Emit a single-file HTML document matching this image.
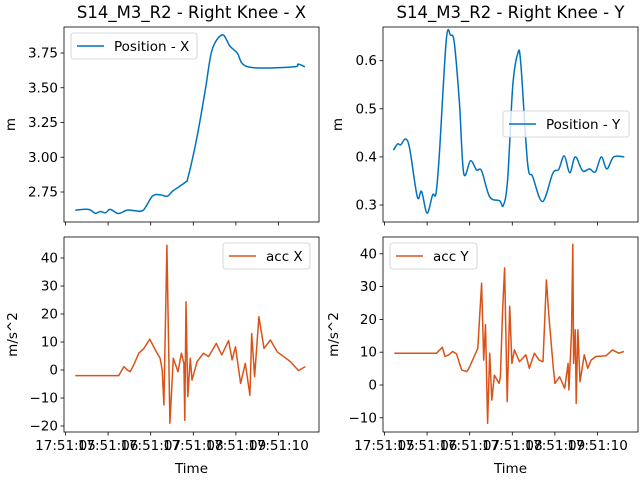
<!DOCTYPE html>
<html><head><meta charset="utf-8"><style>
html,body{margin:0;padding:0;background:#fff}
svg{display:block;font-family:"DejaVu Sans","Liberation Sans",sans-serif}
</style></head><body>
<svg id="fig" width="640" height="480" viewBox="0 0 640 480" xmlns="http://www.w3.org/2000/svg"></svg>
<script>
const timeTicks=[5,6,7,8,9,10];
const timeTickLabels=["17:51:05","17:51:06","17:51:07","17:51:08","17:51:09","17:51:10"];

const posXTime=[5.23,5.54,5.70,5.82,5.94,6.05,6.24,6.45,6.64,6.83,7.04,7.22,7.39,7.53,7.81,7.88,8.09,8.28,8.44,8.68,8.86,9.03,9.29,10.34,10.46,10.62];
const posXVals=[2.62,2.625,2.597,2.61,2.60,2.625,2.595,2.62,2.615,2.62,2.72,2.73,2.72,2.76,2.82,2.86,3.15,3.48,3.77,3.88,3.80,3.75,3.65,3.65,3.67,3.65];
const posXTicks=[2.75,3.00,3.25,3.50,3.75];
const posXTickLabels=["2.75","3.00","3.25","3.50","3.75"];

const posYTime=[5.21,5.31,5.38,5.49,5.59,5.77,5.87,6.0,6.13,6.21,6.29,6.45,6.55,6.64,6.76,6.86,7.02,7.16,7.28,7.47,7.70,7.79,7.89,8.01,8.13,8.20,8.36,8.48,8.71,8.95,9.09,9.22,9.35,9.48,9.65,9.81,9.95,10.09,10.22,10.38,10.63];
const posYVals=[0.414,0.427,0.425,0.437,0.418,0.317,0.328,0.283,0.321,0.324,0.407,0.643,0.653,0.636,0.511,0.366,0.392,0.373,0.371,0.317,0.309,0.299,0.352,0.546,0.615,0.594,0.387,0.359,0.307,0.366,0.374,0.402,0.367,0.400,0.371,0.375,0.369,0.400,0.375,0.400,0.400];
const posYTicks=[0.3,0.4,0.5,0.6];
const posYTickLabels=["0.3","0.4","0.5","0.6"];

const accXTime=[5.23,6.25,6.37,6.45,6.52,6.60,6.72,6.84,6.98,7.11,7.22,7.27,7.31,7.38,7.45,7.53,7.64,7.72,7.78,7.80,7.83,7.87,7.93,7.97,8.09,8.24,8.36,8.54,8.67,8.83,8.91,8.99,9.11,9.22,9.33,9.37,9.44,9.54,9.66,9.81,9.97,10.28,10.47,10.63];
const accXVals=[-2.0,-2.0,1.2,0,-0.6,1.8,6,7.7,11,7.1,4.2,0,-12.5,44.6,-19,4.2,-0.6,6,2.4,-18,24.4,-9.5,4.2,-3.6,3,6,4.8,9.5,5.4,10.5,3.6,8.3,-4.8,2.4,-9,13,-2.4,19,7.7,10.7,6.5,3,-0.2,1.2];
const accXTicks=[-20,-10,0,10,20,30,40];
const accXTickLabels=["\u221220","\u221210","0","10","20","30","40"];

const accYTime=[5.23,6.22,6.36,6.42,6.51,6.60,6.69,6.81,6.93,6.97,7.09,7.19,7.28,7.33,7.37,7.42,7.47,7.52,7.58,7.69,7.72,7.77,7.82,7.88,7.94,7.99,8.05,8.17,8.32,8.40,8.52,8.63,8.72,8.80,8.86,8.96,9.0,9.11,9.23,9.31,9.33,9.39,9.42,9.44,9.48,9.50,9.54,9.59,9.69,9.77,9.85,9.96,10.2,10.35,10.50,10.62];
const accYVals=[9.7,9.7,11.5,8.7,9.2,10.2,9.5,4.6,4.1,4.8,8.2,11.2,31,7.6,18.4,-11.7,9.7,-4.6,3,0.5,2.5,22,35.7,-5.1,24,6.6,10.7,7.1,9.2,5.1,9.7,7.6,7.1,32,21,5.6,0.5,2.5,-1,6.6,-1.5,15.8,42.9,6.6,16.8,-5.6,16.8,1,9.2,5.1,7.6,8.7,8.9,10.7,9.7,10.2];
const accYTicks=[-10,0,10,20,30,40];
const accYTickLabels=["\u221210","0","10","20","30","40"];

const NS="http://www.w3.org/2000/svg";
const svg=document.getElementById('fig');
function el(tag,attrs,parent){const e=document.createElementNS(NS,tag);for(const k in attrs)e.setAttribute(k,attrs[k]);(parent||svg).appendChild(e);return e;}

function pathFrom(pts,smooth){
  if(!smooth){return pts.map((p,i)=>(i?'L':'M')+p[0].toFixed(1)+' '+p[1].toFixed(1)).join('');}
  let d='M'+pts[0][0].toFixed(1)+' '+pts[0][1].toFixed(1);
  for(let i=0;i<pts.length-1;i++){
    const p0=pts[i-1]||pts[i],p1=pts[i],p2=pts[i+1],p3=pts[i+2]||p2;
    const c1=[p1[0]+(p2[0]-p0[0])/6,p1[1]+(p2[1]-p0[1])/6];
    const c2=[p2[0]-(p3[0]-p1[0])/6,p2[1]-(p3[1]-p1[1])/6];
    d+='C'+c1[0].toFixed(1)+' '+c1[1].toFixed(1)+' '+c2[0].toFixed(1)+' '+c2[1].toFixed(1)+' '+p2[0].toFixed(1)+' '+p2[1].toFixed(1);
  }
  return d;
}

function panel(cfg){
  const g=el('g',{});
  
  
  const x0=cfg.x0,y0=cfg.y0,w=255,h=195;
  const xs=t=>x0+(t-4.965)*42.6;
  const ys=v=>cfg.yPix0-(v-cfg.yVal0)*cfg.yScale;
  const pts=cfg.t.map((t,i)=>[xs(t),ys(cfg.v[i])]);
  const p=el('path',{d:pathFrom(pts,cfg.smooth),fill:'none',stroke:cfg.color,'stroke-width':1.5,'stroke-linejoin':'round'},g);
  
  
  el('rect',{x:x0,y:y0,width:w,height:h,fill:'none',stroke:'#000','stroke-width':0.8},g);
  cfg.yTicks.forEach((v,i)=>{
    const y=ys(v);
    el('line',{x1:x0-3.5,x2:x0,y1:y,y2:y,stroke:'#000','stroke-width':0.8},g);
    const tx=el('text',{x:x0-6,y:y+4.5,'text-anchor':'end','font-size':13.5,fill:'#000'},g);
    tx.textContent=cfg.yLabels[i];
    
    
  });
  timeTicks.forEach((t,i)=>{
    const x=xs(t);
    el('line',{x1:x,x2:x,y1:y0+h,y2:y0+h+3.5,stroke:'#000','stroke-width':0.8},g);
    if(cfg.showX){
      const tx=el('text',{x:x,y:y0+h+18,'text-anchor':'middle','font-size':13.5,fill:'#000'},g);
      tx.textContent=timeTickLabels[i];
      
      
    }
  });
  if(cfg.showX){
    const xt=el('text',{x:x0+w/2,y:473,'text-anchor':'middle','font-size':13.5},g);
    xt.textContent='Time';
    
    
  }
  if(cfg.title){
    const tt=el('text',{x:x0+w/2,y:18,'text-anchor':'middle','font-size':16.5},g);
    tt.textContent=cfg.title;
    
    
  }
  const yl=el('text',{x:0,y:0,'text-anchor':'middle','font-size':13.5,transform:`translate(${cfg.ylX},${y0+h/2}) rotate(-90)`},g);
  yl.textContent=cfg.yTitle;
  
  
  const L=cfg.legend;
  const lg=el('g',{},g);
  
  
  el('rect',{x:L.x,y:L.y,width:L.w,height:26,rx:2.5,fill:'#fff','fill-opacity':0.8,stroke:'#ccc','stroke-width':0.8},lg);
  el('line',{x1:L.x+6,x2:L.x+33,y1:L.y+13,y2:L.y+13,stroke:cfg.color,'stroke-width':1.5},lg);
  const lt=el('text',{x:L.x+43,y:L.y+18,'font-size':13.5},lg);
  lt.textContent=L.text;
  
  
}

const blue='#0072bd',orange='#d95319';
panel({name:'position-x-panel',smooth:true,x0:64,y0:27,t:posXTime,v:posXVals,color:blue,yTicks:posXTicks,yLabels:posXTickLabels,yPix0:192,yVal0:2.75,yScale:139,title:'S14_M3_R2 - Right Knee - X',yTitle:'m',ylX:15,showX:false,legend:{x:71,y:33,w:126,text:'Position - X'}});
panel({name:'position-y-panel',smooth:true,x0:383,y0:27,t:posYTime,v:posYVals,color:blue,yTicks:posYTicks,yLabels:posYTickLabels,yPix0:205,yVal0:0.3,yScale:481,title:'S14_M3_R2 - Right Knee - Y',yTitle:'m',ylX:342,showX:false,legend:{x:503,y:111,w:126,text:'Position - Y'}});
panel({name:'acc-x-panel',smooth:false,x0:64,y0:237,t:accXTime,v:accXVals,color:orange,yTicks:accXTicks,yLabels:accXTickLabels,yPix0:370,yVal0:0,yScale:2.8,yTitle:'m/s^2',ylX:17,showX:true,legend:{x:223,y:243,w:87,text:'acc X'}});
panel({name:'acc-y-panel',smooth:false,x0:383,y0:237,t:accYTime,v:accYVals,color:orange,yTicks:accYTicks,yLabels:accYTickLabels,yPix0:385,yVal0:0,yScale:3.28,yTitle:'m/s^2',ylX:338,showX:true,legend:{x:390,y:243,w:87,text:'acc Y'}});
</script>
</body></html>
